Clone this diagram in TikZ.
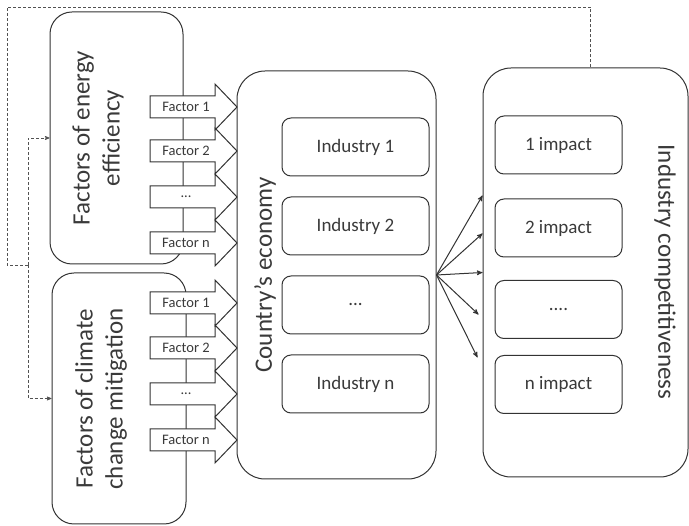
\documentclass[tikz,border=0pt]{standalone}
\usepackage{fontspec}
\setmainfont{Carlito}
\usetikzlibrary{positioning,arrows}
\definecolor{ink}{HTML}{333333}
\definecolor{inktext}{HTML}{3A3A3A}
\tikzstyle{outer} = [draw=ink, line width=1pt, rounded corners=24pt]
\tikzstyle{inner} = [draw=ink, line width=1pt, rounded corners=9pt, minimum height=58pt, text=inktext, font=\fontsize{19}{22}\selectfont]
\tikzstyle{title} = [text=inktext, align=center, font=\fontsize{25}{30}\selectfont]
\tikzstyle{factor} = [draw=ink, line width=1pt, fill=white, line join=miter]
\tikzstyle{flabel} = [text=inktext, inner sep=0pt, font=\fontsize{14.5}{17}\selectfont]
\tikzstyle{to} = [->,>=stealth',line width=1pt,draw=ink]
\tikzstyle{feedback} = [draw=ink!85, line width=0.7pt, dash pattern=on 3pt off 2pt]
% block arrow with its label: name, y, text
\newcommand{\factorarrow}[3]{%
  \draw [factor] (150,#2-11) -- (215,#2-11) -- (215,#2-23) -- (237,#2)
    -- (215,#2+23) -- (215,#2+11) -- (150,#2+11) -- cycle;
  \node (#1) [flabel] at (186,#2) {#3};}

\begin{document}
\begin{tikzpicture}[x=1pt, y=-1pt]
	\useasboundingbox (0,0) rectangle (689,526);
	% factor groups
	\node (eff) [outer, rounded corners=22pt, minimum width=133pt, minimum height=252pt] at (116.5,138) {};
	\node (clim) [outer, rounded corners=22pt, minimum width=134pt, minimum height=251pt] at (119,398.5) {};
	\node (efftitle) [title, rotate=90] at (98,138) {Factors of energy\\efficiency};
	\node (climtitle) [title, rotate=90] at (101,399) {Factors of climate\\change mitigation};
	\factorarrow{ef1}{107}{Factor 1}
	\factorarrow{ef2}{151}{Factor 2}
	\factorarrow{ef3}{197}{...}
	\factorarrow{efn}{243}{Factor n}
	\factorarrow{cm1}{303}{Factor 1}
	\factorarrow{cm2}{348}{Factor 2}
	\factorarrow{cm3}{394}{...}
	\factorarrow{cmn}{440}{Factor n}
	% economy
	\node (econ) [outer, rounded corners=28pt, minimum width=199pt, minimum height=408pt] at (336.5,275) {};
	\node (econtitle) [title, rotate=90] at (265,275) {Country’s economy};
	\node (ind1) [inner, minimum width=147pt] at (355.5,147) {Industry 1};
	\node (ind2) [inner, minimum width=147pt, below=20pt of ind1] {Industry 2};
	\node (ind3) [inner, minimum width=147pt, below=20pt of ind2] {...};
	\node (indn) [inner, minimum width=147pt, below=20pt of ind3] {Industry n};
	% competitiveness
	\node (comp) [outer, rounded corners=28pt, minimum width=205pt, minimum height=409pt] at (585.5,272.5) {};
	\node (comptitle) [title, rotate=-90] at (665,272) {Industry competitiveness};
	\node (imp1) [inner, minimum width=127pt] at (558.5,145) {1 impact};
	\node (imp2) [inner, minimum width=127pt] at (558.5,228) {2 impact};
	\node (imp3) [inner, minimum width=127pt] at (558.5,309.5) {....};
	\node (impn) [inner, minimum width=127pt] at (558.5,384.5) {n impact};
	% impact arrows
	\draw [to] (econ.east) -- ([yshift=77pt]comp.west);
	\draw [to] (econ.east) -- ([yshift=39pt]comp.west);
	\draw [to] (econ.east) -- (comp.west);
	\draw [to] (econ.east) -- ([yshift=-42pt, xshift=-4pt]comp.west);
	\draw [to] (econ.east) -- ([yshift=-85pt, xshift=-5pt]comp.west);
	% feedback loop
	\coordinate (loopcorner) at (7,7);
	\coordinate (fork) at (28,265);
	\draw [feedback] ([xshift=4.5pt]comp.north) |- (loopcorner) |- (fork);
	\draw [feedback, ->, >=stealth'] (fork) |- (eff.west);
	\draw [feedback, ->, >=stealth'] (fork) |- (clim.west);
\end{tikzpicture}
\end{document}
